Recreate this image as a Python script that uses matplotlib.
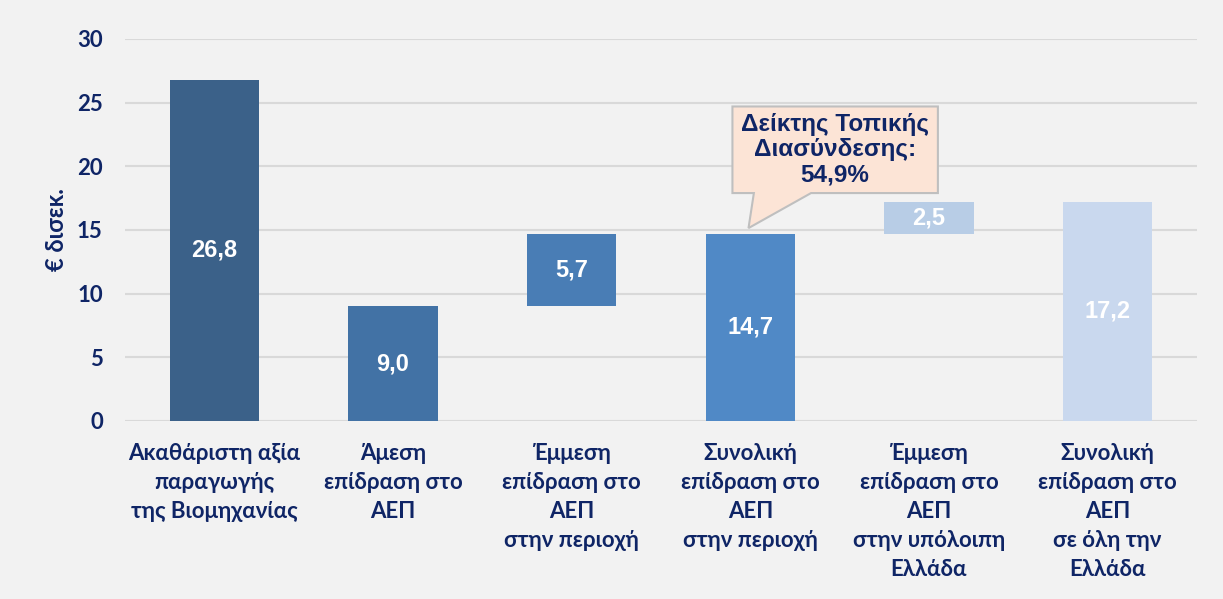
import matplotlib
matplotlib.use("Agg")
import matplotlib.pyplot as plt
from matplotlib.patches import Polygon

categories = [
    "Ακαθάριστη αξία\nπαραγωγής\nτης Βιομηχανίας",
    "Άμεση\nεπίδραση στο\nΑΕΠ",
    "Έμμεση\nεπίδραση στο\nΑΕΠ\nστην περιοχή",
    "Συνολική\nεπίδραση στο\nΑΕΠ\nστην περιοχή",
    "Έμμεση\nεπίδραση στο\nΑΕΠ\nστην υπόλοιπη\nΕλλάδα",
    "Συνολική\nεπίδραση στο\nΑΕΠ\nσε όλη την\nΕλλάδα",
]
values = [26.8, 9.0, 5.7, 14.7, 2.5, 17.2]
bases = [0, 0, 9.0, 0, 14.7, 0]
value_labels = ["26,8", "9,0", "5,7", "14,7", "2,5", "17,2"]
colors = ["#3B6189", "#4272A5", "#497DB5", "#5089C6", "#B8CDE6", "#C9D8EE"]
yticks = [0, 5, 10, 15, 20, 25, 30]
callout_text = "Δείκτης Τοπικής\nΔιασύνδεσης:\n54,9%"

NAVY = "#0F2566"
BG = "#F2F2F2"

fig = plt.figure(figsize=(12.23, 5.99), dpi=100, facecolor=BG)
ax = fig.add_axes([0.1022, 0.2972, 0.8765, 0.6377])
ax.set_facecolor(BG)

x = list(range(len(categories)))
ax.bar(x, values, bottom=bases, width=0.5, color=colors, zorder=3)
for xi, v, b, lab in zip(x, values, bases, value_labels):
    ax.text(xi, b + v / 2, lab, ha="center", va="center", color="white",
            fontsize=17, fontweight="bold", family="Liberation Sans", zorder=4)

ax.set_xlim(-0.5, len(categories) - 0.5)
ax.set_ylim(0, 30)
ax.set_yticks(yticks)
ax.set_yticklabels([str(t) for t in yticks], fontsize=16, fontweight="bold",
                   color=NAVY, family="Lato")
ax.set_xticks(x)
ax.set_xticklabels(categories, fontsize=16, fontweight="bold", color=NAVY,
                   family="Lato", linespacing=1.47, va="top")
ax.tick_params(axis="both", length=0)
ax.tick_params(axis="y", pad=16)
ax.tick_params(axis="x", pad=16)
ax.grid(axis="y", color="#D9D9D9", linewidth=1.5, zorder=0)
for s in ax.spines.values():
    s.set_visible(False)
ax.set_ylabel("€ δισεκ.", fontsize=17, fontweight="bold", color=NAVY,
              family="Lato")
ax.yaxis.set_label_coords(-0.053, 0.5)

# callout pointing at top of the 4th bar
i = 3
top = bases[i] + values[i]
tip = (i - 0.01, top + 0.45)
x0, x1 = i - 0.10, i + 1.05
y0, y1 = 17.9, 24.7
poly = Polygon([(x0, y0), (x0, y1), (x1, y1), (x1, y0),
                (i + 0.34, y0), tip, (i + 0.02, y0)],
               closed=True, facecolor="#FCE4D6", edgecolor="#BFBFBF",
               linewidth=1.5, zorder=5)
ax.add_patch(poly)
ax.text((x0 + x1) / 2, (y0 + y1) / 2, callout_text, ha="center", va="center",
        fontsize=17.5, fontweight="bold", color=NAVY, family="Liberation Sans",
        linespacing=1.1, zorder=6)

fig.savefig("out.png", dpi=100, facecolor=BG)
